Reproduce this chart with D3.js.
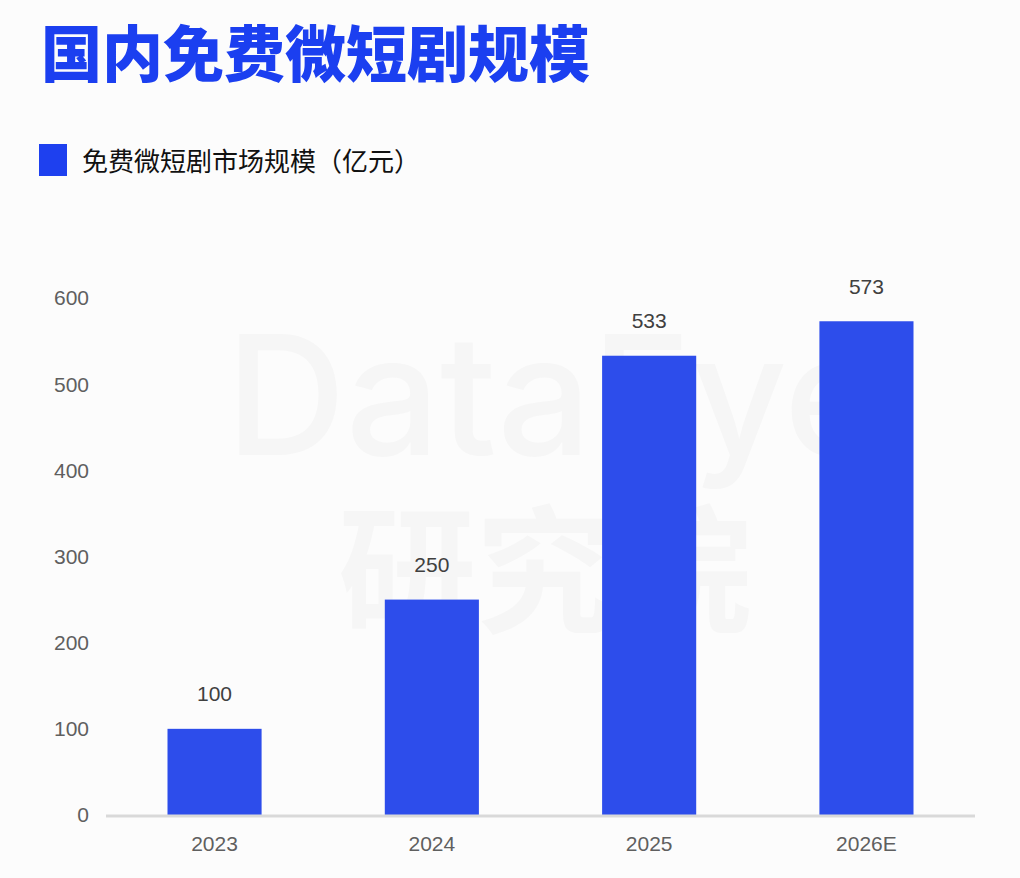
<!DOCTYPE html>
<html>
  <head>
    <meta charset="utf-8">
    <script src="https://d3js.org/d3.v7.min.js"></script>
    <style>
      body { margin: 0; background: #fcfcfc; }
      svg { display: block; }
    </style>
  </head>
  <body>
    <svg width="1020" height="878"></svg>
    <script>
      var categories = ['2023', '2024', '2025', '2026E'],
          values = [100, 250, 533, 573],
          yTicks = [0, 100, 200, 300, 400, 500, 600],
          title = '国内免费微短剧规模',
          seriesName = '免费微短剧市场规模（亿元）';

      var svg = d3.select('svg');
      var cjk = '"Noto Sans CJK SC", "Noto Sans", sans-serif',
          latin = 'Arial, "Liberation Sans", sans-serif';

      svg.append('rect').attr('width', 1020).attr('height', 878).attr('fill', '#fcfcfc');

      // faint watermark
      svg.append('text')
        .attr('x', 226).attr('y', 455)
        .style('font-family', '"Inter", "Noto Sans", sans-serif')
        .style('font-size', '166px').style('font-weight', 500)
        .style('fill', '#f6f6f6')
        .text('DataEye');
      svg.append('text')
        .attr('x', 338).attr('y', 622)
        .style('font-family', cjk)
        .style('font-size', '138px').style('font-weight', 700)
        .style('fill', '#f6f6f6')
        .text('研究院');

      // title
      svg.append('text')
        .attr('x', 41).attr('y', 77)
        .style('font-family', cjk)
        .style('font-size', '61px').style('font-weight', 900)
        .style('fill', '#1b3ff0')
        .text(title);

      // legend
      svg.append('rect')
        .attr('x', 39).attr('y', 144).attr('width', 28).attr('height', 32)
        .attr('fill', '#1e40ef');
      svg.append('text')
        .attr('x', 82).attr('y', 171)
        .style('font-family', cjk)
        .style('font-size', '26px')
        .style('fill', '#111')
        .text(seriesName);

      var x = d3.scaleBand().domain(categories).range([106, 975]).paddingInner(0.567).paddingOuter(0.283);
      var y = d3.scaleLinear().domain([0, 600]).range([815, 298]);

      // y tick labels
      svg.append('g').selectAll('text').data(yTicks).join('text')
        .attr('x', 89).attr('y', function(d) { return y(d); })
        .attr('dy', '0.35em')
        .attr('text-anchor', 'end')
        .style('font-family', latin).style('font-size', '21px')
        .style('fill', '#5f5f5f')
        .text(function(d) { return d; });

      // bars
      svg.append('g').selectAll('rect').data(values).join('rect')
        .attr('x', function(d, i) { return x(categories[i]); })
        .attr('y', function(d) { return y(d); })
        .attr('width', x.bandwidth())
        .attr('height', function(d) { return y(0) - y(d); })
        .attr('fill', '#2d4deb');

      // value labels
      svg.append('g').selectAll('text').data(values).join('text')
        .attr('x', function(d, i) { return x(categories[i]) + x.bandwidth() / 2; })
        .attr('y', function(d) { return y(d) - 35; })
        .attr('dy', '0.35em')
        .attr('text-anchor', 'middle')
        .style('font-family', latin).style('font-size', '21px')
        .style('fill', '#404040')
        .text(function(d) { return d; });

      // x axis line
      svg.append('line')
        .attr('x1', 106).attr('x2', 975)
        .attr('y1', y(0) + 1).attr('y2', y(0) + 1)
        .attr('stroke', '#d9d9d9').attr('stroke-width', 3);

      // x labels
      svg.append('g').selectAll('text').data(categories).join('text')
        .attr('x', function(d) { return x(d) + x.bandwidth() / 2; })
        .attr('y', 844)
        .attr('dy', '0.35em')
        .attr('text-anchor', 'middle')
        .style('font-family', latin).style('font-size', '21px')
        .style('fill', '#5f5f5f')
        .text(function(d) { return d; });
    </script>
  </body>
</html>
